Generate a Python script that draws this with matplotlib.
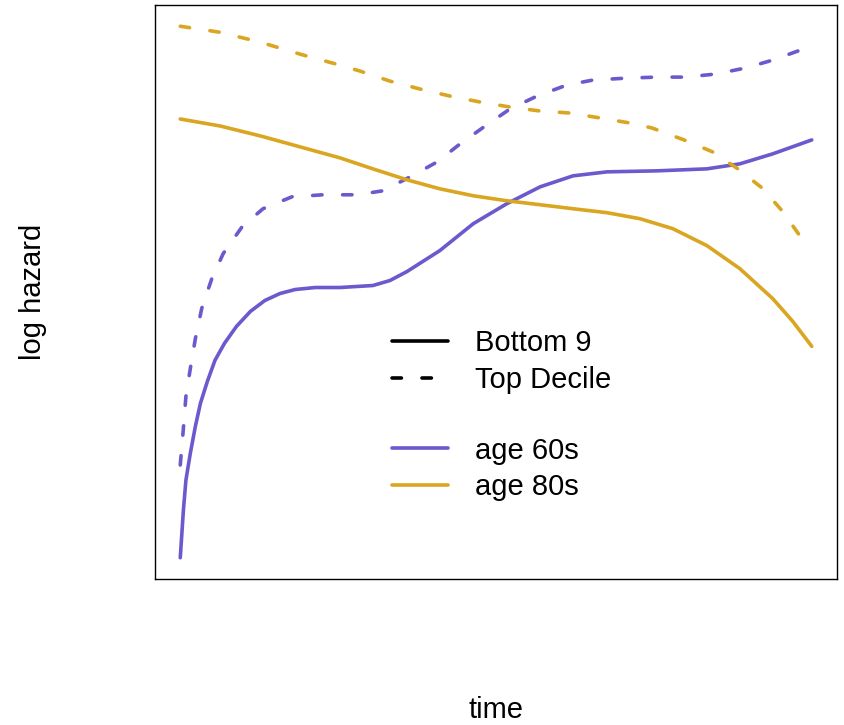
import matplotlib
matplotlib.use("Agg")
import matplotlib.pyplot as plt
from matplotlib.lines import Line2D

plt.rcParams['font.family'] = ['Liberation Sans', 'DejaVu Sans']

# age 60s, bottom 9 deciles (solid)
t_60_bottom = [0, 0.05, 0.09, 0.16, 0.24, 0.32, 0.43, 0.55, 0.70, 0.89, 1.11, 1.34,
               1.58, 1.82, 2.14, 2.53, 3.05, 3.32, 3.59, 4.11, 4.64, 5.17, 5.70, 6.22,
               6.76, 7.55, 8.34, 8.86, 9.38, 10]
h_60_bottom = [0.19, 0.67, 0.97, 1.24, 1.51, 1.74, 1.96, 2.17, 2.34, 2.51, 2.66, 2.77,
               2.84, 2.88, 2.90, 2.90, 2.92, 2.97, 3.06, 3.27, 3.54, 3.74, 3.91, 4.02,
               4.06, 4.07, 4.09, 4.14, 4.24, 4.38]

# age 60s, top decile (dashed)
t_60_top = [0, 0.05, 0.09, 0.16, 0.24, 0.34, 0.50, 0.68, 0.98, 1.31, 1.77, 2.26, 2.80,
            3.21, 3.64, 4.07, 4.43, 4.83, 5.22, 5.65, 6.12, 6.53, 7.07, 7.55, 7.99,
            8.47, 8.94, 9.38, 9.86, 10]
h_60_top = [1.12, 1.49, 1.81, 2.09, 2.39, 2.69, 2.99, 3.24, 3.51, 3.69, 3.81, 3.83, 3.83,
            3.87, 4.01, 4.16, 4.34, 4.52, 4.69, 4.82, 4.93, 4.98, 5.00, 5.01, 5.01,
            5.04, 5.10, 5.18, 5.29, 5.32]

# age 80s, bottom 9 deciles (solid)
t_80_bottom = [0, 0.63, 1.27, 1.90, 2.53, 3.05, 3.59, 4.11, 4.64, 5.17, 5.70, 6.22,
               6.76, 7.28, 7.80, 8.34, 8.86, 9.38, 9.70, 10]
h_80_bottom = [4.59, 4.52, 4.42, 4.31, 4.20, 4.09, 3.98, 3.89, 3.82, 3.77, 3.73, 3.69,
               3.65, 3.59, 3.49, 3.32, 3.09, 2.79, 2.56, 2.31]

# age 80s, top decile (dashed)
t_80_top = [0, 0.63, 1.27, 1.90, 2.53, 2.85, 3.32, 3.80, 4.27, 4.75, 5.22, 5.70, 6.17,
            6.65, 7.12, 7.47, 8.02, 8.43, 8.83, 9.21, 9.53, 9.81, 9.89]
h_80_top = [5.52, 5.46, 5.36, 5.24, 5.13, 5.07, 4.97, 4.89, 4.82, 4.76, 4.71, 4.67, 4.65,
            4.60, 4.55, 4.50, 4.37, 4.26, 4.09, 3.90, 3.67, 3.42, 3.34]

col60 = "#6A5ACD"
col80 = "#DAA520"
lw = 2.6
dash = (0, (2.6, 5.7))
fs = 21

fig = plt.figure(figsize=(8.44, 7.25), dpi=100)
ax = fig.add_axes([155 / 844, 1 - 579 / 725, 682 / 844, 574 / 725])

kw = dict(lw=lw, solid_capstyle="round", dash_capstyle="round")
ax.plot(t_60_bottom, h_60_bottom, color=col60, **kw)
ax.plot(t_60_top, h_60_top, color=col60, ls=dash, **kw)
ax.plot(t_80_bottom, h_80_bottom, color=col80, **kw)
ax.plot(t_80_top, h_80_top, color=col80, ls=dash, **kw)

ax.margins(0.04)
ax.set_xticks([])
ax.set_yticks([])
for s in ax.spines.values():
    s.set_linewidth(1.0)

fig.text(33 / 844, 1 - 292 / 725, "log hazard", rotation=90, fontsize=fs,
         ha="center", va="center")
fig.text(496 / 844, 1 - 710 / 725, "time", fontsize=fs, ha="center", va="center")

handles = [
    Line2D([], [], color="black", **kw),
    Line2D([], [], color="black", ls=dash, **kw),
    Line2D([], [], color="none"),
    Line2D([], [], color=col60, **kw),
    Line2D([], [], color=col80, **kw),
]
labels = ["Bottom 9", "Top Decile", " ", "age 60s", "age 80s"]
leg = fig.legend(handles, labels, loc="upper left",
                 bbox_to_anchor=(392 / 844, 1 - 329 / 725),
                 frameon=False, fontsize=fs, handlelength=1.92, handletextpad=0.93,
                 labelspacing=0.3, borderpad=0, borderaxespad=0)
leg.get_texts()[2].set_fontsize(16)

fig.savefig("out.png", dpi=100)
